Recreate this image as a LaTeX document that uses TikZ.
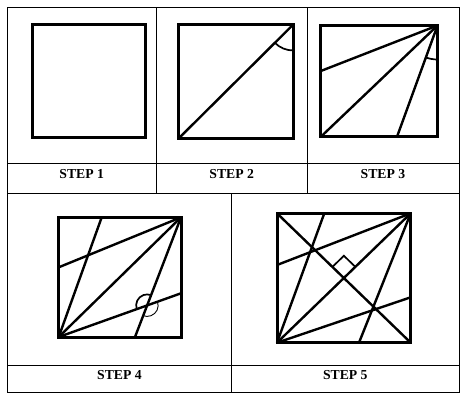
\documentclass[tikz,border=0pt]{standalone}
\usepackage{fontspec}
\setmainfont{Liberation Serif}
\usetikzlibrary{calc}
\begin{document}
\begin{tikzpicture}[x=1pt,y=-1pt,
  tbl/.style={line width=1pt},
  sq/.style={line width=3pt},
  ln/.style={line width=2.4pt},
  mk/.style={line width=1.7pt},
  thin mk/.style={line width=0.9pt},
  lbl/.style={font=\fontsize{13.7}{16}\selectfont\bfseries, anchor=base, inner sep=0pt}]
\useasboundingbox (0,0) rectangle (466,400);
% table
\draw[tbl] (7,7) rectangle (459,392);
\draw[tbl] (7,163.3) -- (459,163.3);
\draw[tbl] (7,193.3) -- (459,193.3);
\draw[tbl] (7,365.7) -- (459,365.7);
\draw[tbl] (156.3,7) -- (156.3,193.3);
\draw[tbl] (307,7) -- (307,193.3);
\draw[tbl] (231.7,193.3) -- (231.7,392);
% labels
\node[lbl] (s1) at (81.7,178.3) {STEP 1};
\node[lbl] (s2) at (231.7,178.3) {STEP 2};
\node[lbl] (s3) at (383,178.3) {STEP 3};
\node[lbl] (s4) at (119.5,379.5) {STEP 4};
\node[lbl] (s5) at (345.3,379.5) {STEP 5};
% step 1
\draw[sq] (32.5,24.2) rectangle (145.5,137.2);
% step 2
\coordinate (bl2) at (178.8,138.3);
\coordinate (tr2) at (293.3,24.5);
\draw[ln] (bl2) -- (tr2);
\draw[mk] ([shift={(90:26)}]tr2) arc[start angle=90,end angle=135,radius=26];
\draw[sq] (bl2) rectangle (tr2);
% step 3
\coordinate (bl3) at (320.8,136.8);
\coordinate (tr3) at (437.5,25.5);
\coordinate (l3) at (320.8,71);
\coordinate (d3) at (397,136.8);
\draw[ln] (tr3) -- (l3);
\draw[ln] (tr3) -- (bl3);
\draw[ln] (tr3) -- (d3);
\draw[mk] ([shift={(90:34)}]tr3) arc[start angle=90,end angle=110,radius=34];
\draw[sq] (bl3) rectangle (tr3);
% step 4
\coordinate (bl4) at (58.7,337);
\coordinate (tr4) at (181,217.3);
\coordinate (l4) at (58.7,267.3);
\coordinate (d4) at (135,337);
\coordinate (u4) at (101.7,217.3);
\coordinate (r4) at (181,293.3);
\draw[ln] (tr4) -- (l4);
\draw[ln] (tr4) -- (bl4);
\draw[ln] (tr4) -- (d4);
\draw[ln] (bl4) -- (u4);
\draw[ln] (bl4) -- (r4);
\coordinate (p4) at (intersection of bl4--r4 and tr4--d4);
\draw[mk] ([shift={(160.3:11)}]p4) arc[start angle=160.3,end angle=291,radius=11];
\draw[thin mk] ([shift={(340.3:11)}]p4) arc[start angle=340.3,end angle=471,radius=11];
\draw[sq] (bl4) rectangle (tr4);
% step 5
\coordinate (bl5) at (277,342.7);
\coordinate (tr5) at (410.7,213.3);
\coordinate (tl5) at (277,213.3);
\coordinate (br5) at (410.7,342.7);
\coordinate (l5) at (277,265);
\coordinate (d5) at (359,342.7);
\coordinate (u5) at (324.3,213.3);
\coordinate (r5) at (410.7,297.3);
\draw[ln] (tr5) -- (l5);
\draw[ln] (tr5) -- (bl5);
\draw[ln] (tr5) -- (d5);
\draw[ln] (bl5) -- (u5);
\draw[ln] (bl5) -- (r5);
\draw[ln] (tl5) -- (br5);
\coordinate (o5) at (intersection of bl5--tr5 and tl5--br5);
\coordinate (m1) at ($(o5)!16pt!(tl5)$);
\coordinate (m2) at ($(o5)!16pt!(tr5)$);
\draw[mk] (m1) -- ($(m1)+(m2)-(o5)$) -- (m2);
\draw[sq] (bl5) rectangle (tr5);
\end{tikzpicture}
\end{document}
